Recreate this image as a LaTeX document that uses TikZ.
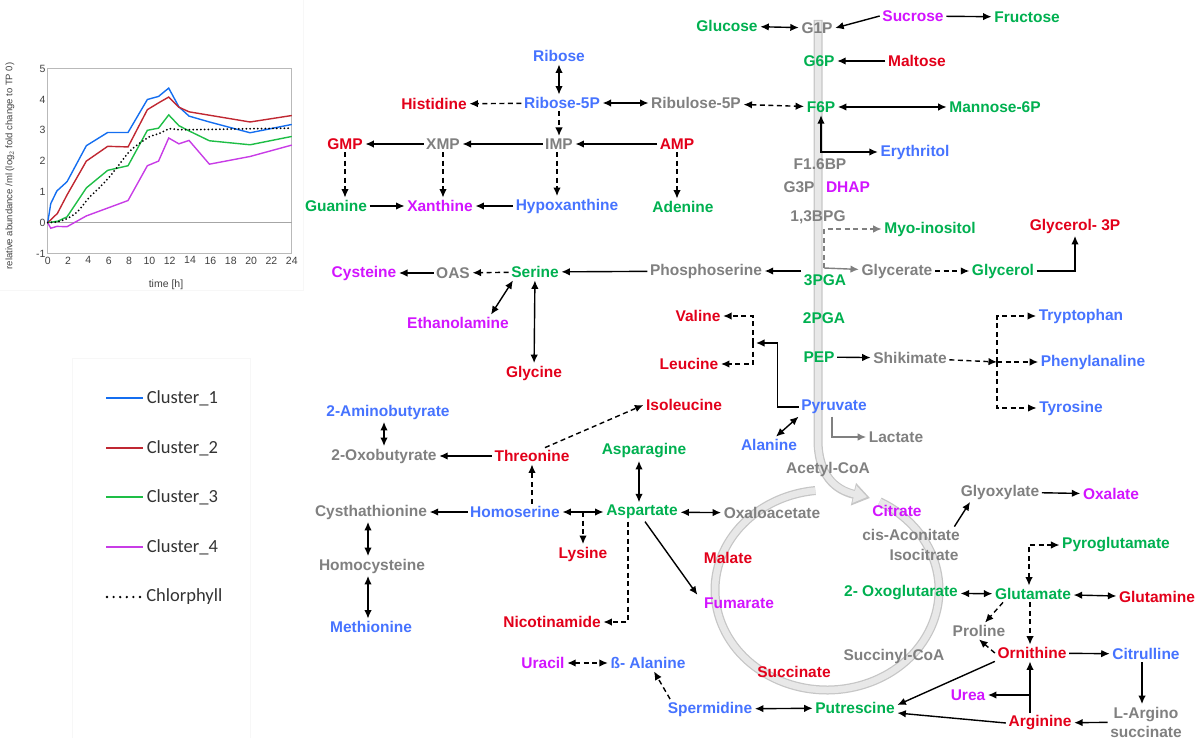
\documentclass[tikz,border=0pt]{standalone}
\usepackage{fontspec}
\setmainfont{Liberation Sans}
\newfontfamily\legfont{Carlito}
\usetikzlibrary{arrows.meta}

\definecolor{cgreen}{RGB}{0,176,80}
\definecolor{cred}{RGB}{226,0,26}
\definecolor{cblue}{RGB}{70,115,255}
\definecolor{cmag}{RGB}{210,20,255}
\definecolor{cgray}{RGB}{128,128,128}
\definecolor{cl1}{RGB}{20,110,240}
\definecolor{cl2}{RGB}{192,40,50}
\definecolor{cl3}{RGB}{30,190,70}
\definecolor{cl4}{RGB}{200,60,230}

\tikzset{
  met/.style={font=\bfseries\fontsize{15.5}{17}\selectfont, inner sep=2.5pt},
  grn/.style={met, text=cgreen},
  rd/.style={met, text=cred},
  blu/.style={met, text=cblue},
  mag/.style={met, text=cmag},
  gry/.style={met, text=cgray},
  arr/.style={line width=1.4pt},
  dsh/.style={arr, dash pattern=on 5pt off 3.5pt},
  garr/.style={arr, draw=cgray},
  gdsh/.style={dsh, draw=cgray},
  band/.style={line width=9pt, draw=gray!45},
  bandin/.style={line width=6.5pt, draw=gray!18},
  tick/.style={font=\fontsize{10.5}{12}\selectfont, text=black!75, inner sep=2pt},
  faint/.style={draw=gray!6, line width=0.6pt},
}

\begin{document}
\begin{tikzpicture}[x=1pt, y=-1pt, >={Latex[length=8.5pt,width=7.5pt]}]
  \useasboundingbox (0,0) rectangle (1201,738);
  \draw[faint] (-5,-5) rectangle (303,290);
  \draw[faint] (72,358) rectangle (250,760);

  % time course chart
  \node[rotate=90, font=\fontsize{9.5}{10}\selectfont, text=black!75] (ylab) at (10,166)
    {relative abundance /ml (log$_2$ fold change to TP 0)};
  \node[tick] (xlab) at (166,285) {time [h]};
  \begin{scope}[shift={(47.7,222.7)}, x=10.17pt, y=30.8pt]
    \draw[gray!55, line width=0.8pt] (0,-1) rectangle (24,5);
    \draw[gray!70, line width=1.3pt] (0,0) -- (24,0);
    \foreach \v in {-1,...,5} \node[tick, left] (yt\v) at (0,\v) {\v};
    \foreach \t in {0,2,...,24} \node[tick, below=1pt] (xt\t) at (\t,-1) {\t};
    \draw[cl1, line width=1.4pt] plot coordinates {(0,0) (0.3,0.62) (0.9,1.03) (1.9,1.33) (3.8,2.5)
      (5.9,2.93) (7.9,2.93) (9.8,4.0) (10.9,4.1) (11.9,4.37) (12.9,3.76) (13.9,3.46) (15.9,3.27)
      (19.9,2.92) (24,3.19)};
    \draw[cl2, line width=1.4pt] plot coordinates {(0,0) (0.95,0.3) (1.9,0.9) (3.8,2.0) (5.9,2.48)
      (7.9,2.46) (9.8,3.67) (10.9,3.89) (11.9,4.08) (12.9,3.75) (13.9,3.6) (19.9,3.27) (24,3.48)};
    \draw[cl3, line width=1.4pt] plot coordinates {(0,0) (1,0.05) (1.9,0.19) (3.8,1.13) (5.9,1.7)
      (7.9,1.85) (9.8,3.0) (10.9,3.07) (11.9,3.5) (12.9,3.15) (13.9,2.98) (15.9,2.66) (19.9,2.53)
      (24,2.8)};
    \draw[cl4, line width=1.4pt] plot coordinates {(0,0) (0.3,-0.18) (0.9,-0.12) (1.9,-0.13)
      (3.8,0.22) (7.9,0.72) (9.8,1.85) (10.9,2.0) (11.9,2.75) (12.9,2.56) (13.9,2.67) (15.9,1.9)
      (19.9,2.15) (24,2.52)};
    \draw[black, line width=2pt, dash pattern=on 0pt off 3.8pt, line cap=round] plot[smooth]
      coordinates {(0,0) (1,0.03) (2,0.15) (3,0.38) (4,0.79) (5,1.11) (6,1.46) (7,1.87) (8,2.3)
      (9,2.57) (10,2.79) (11,2.9) (12,3.05) (13,3.02) (16,3.03) (20,3.05) (24,3.07)};
  \end{scope}

  % legend
  \foreach \c/\n/\y in {cl1/Cluster\_1/398, cl2/Cluster\_2/448, cl3/Cluster\_3/497, cl4/Cluster\_4/547}
    \draw[\c, line width=1.6pt] (106,\y) -- (143,\y)
      node[right, font=\legfont\fontsize{18.5}{20}\selectfont, text=black!80, inner sep=3pt] (leg\y) {\n};
  \draw[black, line width=2.6pt, dash pattern=on 0pt off 6.6pt, line cap=round] (107,597) -- (142,597)
    node[right, font=\legfont\fontsize{18.5}{20}\selectfont, text=black!80, inner sep=3pt] (leg597) {Chlorphyll};

  % glycolysis band and TCA cycle
  \draw[band, -{Triangle[width=22pt,length=17pt]}] (818,20) -- (818,440)
    .. controls (818,475) and (835,490) .. (870,498);
  \draw[bandin, -{Triangle[width=17pt,length=13pt]}] (818,21) -- (818,440)
    .. controls (818,475) and (835,490) .. (867,497);
  \draw[band] (879.6,501.7) arc[start angle=-62, end angle=264, x radius=112, y radius=100];
  \draw[bandin] (879.6,501.7) arc[start angle=-62, end angle=264, x radius=112, y radius=100];

  % metabolites
  \node[grn] (glucose) at (727,26) {Glucose};
  \node[gry] (g1p) at (817,28) {G1P};
  \node[mag] (sucrose) at (913,16) {Sucrose};
  \node[grn] (fructose) at (1027,17) {Fructose};
  \node[grn] (g6p) at (819,61) {G6P};
  \node[rd] (maltose) at (917,61) {Maltose};
  \node[grn] (f6p) at (821,107) {F6P};
  \node[grn] (mannose) at (995,107) {Mannose-6P};
  \node[blu] (erythritol) at (915,152) {Erythritol};
  \node[gry] (f16bp) at (820,164) {F1.6BP};
  \node[gry] (g3p) at (799,187) {G3P};
  \node[mag] (dhap) at (848,187) {DHAP};
  \node[gry] (bpg) at (818,217) {1,3BPG};
  \node[grn] (myo) at (930,229) {Myo-inositol};
  \node[rd] (gl3p) at (1075,226) {Glycerol- 3P};
  \node[gry] (glycerate) at (897,271) {Glycerate};
  \node[grn] (glycerol) at (1003,271) {Glycerol};
  \node[grn] (pga3) at (825,280) {3PGA};
  \node[grn] (pga2) at (824,318) {2PGA};
  \node[grn] (pep) at (819,357) {PEP};
  \node[gry] (shikimate) at (910,358) {Shikimate};
  \node[blu] (trp) at (1081,316) {Tryptophan};
  \node[blu] (phe) at (1093,362) {Phenylanaline};
  \node[blu] (tyr) at (1071,408) {Tyrosine};
  \node[rd] (valine) at (698,316) {Valine};
  \node[rd] (leucine) at (689,364) {Leucine};
  \node[rd] (isoleucine) at (684,405) {Isoleucine};
  \node[blu] (pyruvate) at (834,407) {Pyruvate};
  \node[gry] (lactate) at (896,437) {Lactate};
  \node[blu] (alanine) at (769,445) {Alanine};
  \node[gry] (acetyl) at (828,469) {Acetyl-CoA};
  \node[mag] (citrate) at (897,511) {Citrate};
  \node[gry] (cisacon) at (911,535) {cis-Aconitate};
  \node[gry] (isocit) at (924,555) {Isocitrate};
  \node[gry] (glyox) at (1000,492) {Glyoxylate};
  \node[mag] (oxalate) at (1111,494) {Oxalate};
  \node[grn] (pyroglu) at (1116,545) {Pyroglutamate};
  \node[grn] (oxoglu) at (901,593) {2- Oxoglutarate};
  \node[grn] (glutamate) at (1033,594) {Glutamate};
  \node[rd] (glutamine) at (1157,597) {Glutamine};
  \node[gry] (proline) at (979,631) {Proline};
  \node[rd] (ornithine) at (1032,653) {Ornithine};
  \node[blu] (citrulline) at (1146,654) {Citrulline};
  \node[gry] (succoa) at (894,656) {Succinyl-CoA};
  \node[rd] (succinate) at (794,672) {Succinate};
  \node[mag] (urea) at (968,695) {Urea};
  \node[grn] (putrescine) at (855,708) {Putrescine};
  \node[rd] (arginine) at (1040,723) {Arginine};
  \node[gry, align=center, font=\bfseries\fontsize{15.5}{19}\selectfont] (largino) at (1146,722) {L-Argino\\succinate};
  \node[blu] (spermidine) at (710,709) {Spermidine};
  \node[rd] (malate) at (728,558) {Malate};
  \node[mag] (fumarate) at (739,603) {Fumarate};
  \node[gry] (oxaloac) at (772,513) {Oxaloacetate};
  \node[grn] (aspartate) at (642,512) {Aspartate};
  \node[grn] (asparagine) at (644,451) {Asparagine};
  \node[blu] (homoser) at (515,512) {Homoserine};
  \node[rd] (lysine) at (583,554) {Lysine};
  \node[rd] (nicotin) at (552,622) {Nicotinamide};
  \node[mag] (uracil) at (543,663) {Uracil};
  \node[blu] (balanine) at (648,663) {ß- Alanine};
  \node[rd] (threonine) at (532,456) {Threonine};
  \node[gry] (oxobut) at (384,456) {2-Oxobutyrate};
  \node[blu] (aminobut) at (388,412) {2-Aminobutyrate};
  \node[gry] (cysta) at (371,512) {Cysthathionine};
  \node[gry] (homocys) at (372,566) {Homocysteine};
  \node[blu] (methionine) at (371,627) {Methionine};
  \node[gry] (phosser) at (706,271) {Phosphoserine};
  \node[grn] (serine) at (535,272) {Serine};
  \node[gry] (oas) at (453,273) {OAS};
  \node[mag] (cysteine) at (364,273) {Cysteine};
  \node[mag] (ethanol) at (458,323) {Ethanolamine};
  \node[rd] (glycine) at (534,373) {Glycine};
  \node[blu] (ribose) at (559,56) {Ribose};
  \node[blu] (ribose5p) at (562,103) {Ribose-5P};
  \node[rd] (histidine) at (434,104) {Histidine};
  \node[gry] (ribulose) at (696,103) {Ribulose-5P};
  \node[rd] (gmp) at (345,144) {GMP};
  \node[gry] (xmp) at (443,144) {XMP};
  \node[gry] (imp) at (559,144) {IMP};
  \node[rd] (amp) at (677,144) {AMP};
  \node[grn] (guanine) at (336,206) {Guanine};
  \node[mag] (xanthine) at (440,206) {Xanthine};
  \node[blu] (hypox) at (567,206) {Hypoxanthine};
  \node[grn] (adenine) at (683,207) {Adenine};

  % glycolysis side branches
  \draw[arr,<->] (glucose) -- (g1p);
  \draw[arr,->] (sucrose.west) -- (g1p.east);
  \draw[arr,->] (sucrose) -- (fructose);
  \draw[arr,->] (maltose) -- (g6p);
  \draw[dsh,<->] (ribulose) -- (f6p);
  \draw[arr,<->] (f6p) -- (mannose);
  \draw[arr,<->] (f6p.south) |- (erythritol.west);
  \coordinate (pgab) at (824,268);
  \draw[garr,->] (pgab) -- (glycerate);
  \draw[gdsh,->] (pgab) |- (myo.west);
  \draw[dsh,->] (glycerate) -- (glycerol);
  \draw[arr,->] (glycerol.east) -| (gl3p.south);
  \draw[arr,->] (pga3.west |- phosser.east) -- (phosser.east);
  \draw[arr,->] (phosser) -- (serine);
  \draw[dsh,->] (serine) -- (oas);
  \draw[arr,->] (oas) -- (cysteine);
  \draw[arr,<->] ([xshift=-22pt]serine.south) -- ([xshift=33pt]ethanol.north);
  \draw[arr,<->] (serine) -- (glycine);
  \draw[arr,->] (pep) -- (shikimate);
  \coordinate (aro) at (997,362);
  \draw[dsh,->] (shikimate) -- (aro);
  \draw[dsh,->] (aro) |- (trp.west);
  \draw[dsh,->] (aro) -- (phe.west);
  \draw[dsh,->] (aro) |- (tyr.west);
  \coordinate (bc) at (753,343);
  \draw[arr,->] (pyruvate.west) -| ++(-21,-64) -- ([xshift=3pt]bc);
  \draw[dsh,->] (bc) |- (valine.east);
  \draw[dsh,->] (bc) |- (leucine.east);
  \draw[arr,<->] (pyruvate.south west) -- ([xshift=7pt]alanine.north);
  \draw[garr,->] ([xshift=-2pt]pyruvate.south) |- (lactate.west);

  % amino acids of the aspartate family
  \draw[dsh,->] ([xshift=13pt]threonine.north) -- (isoleucine.west);
  \draw[arr,->] (threonine) -- (oxobut);
  \draw[arr,<->] (aminobut.south -| oxobut.north) -- (oxobut.north);
  \draw[dsh,->] (homoser.north -| threonine.south) -- (threonine.south);
  \draw[arr,->] (homoser) -- (cysta);
  \draw[arr,<->] ([xshift=-3pt]cysta.south) -- ([xshift=-3pt]cysta.south |- homocys.north);
  \draw[arr,<->] ([xshift=-4pt]homocys.south) -- ([xshift=-4pt]homocys.south |- methionine.north);
  \draw[arr,<->] (homoser) -- (aspartate);
  \draw[dsh,->] (lysine.north |- homoser.east) -- (lysine.north);
  \draw[arr,<->] ([xshift=-3pt]aspartate.north) -- ([xshift=-3pt]aspartate.north |- asparagine.south);
  \draw[arr,<->] (aspartate) -- (oxaloac);
  \draw[arr,->] ([xshift=3pt]aspartate.south) -- ([xshift=-4pt]fumarate.north west);
  \draw[dsh,->] ([xshift=-14pt]aspartate.south) |- (nicotin.east);
  \draw[dsh,<->] (uracil) -- (balanine);
  \draw[dsh,->] ([xshift=5pt]spermidine.north west) -- ([xshift=6pt]balanine.south);
  \draw[arr,<->] (spermidine) -- (putrescine);

  % urea cycle and glutamate
  \draw[arr,->] (ornithine.south west) -- ([yshift=3pt]putrescine.east);
  \draw[arr,->] (arginine.west) -- ([yshift=-5pt]putrescine.east);
  \draw[arr,->] ([xshift=-2pt]ornithine.south |- arginine.north) -- ([xshift=-2pt]ornithine.south);
  \draw[arr,->] ([xshift=-2pt]ornithine.south |- urea.east) -- (urea.east);
  \draw[arr,->] (ornithine) -- (citrulline);
  \draw[arr,->] ([xshift=-4pt]citrulline.south) -- ([xshift=-4pt]largino.north);
  \draw[arr,->] (largino) -- (arginine);
  \draw[dsh,->] (ornithine.west) -- (proline.south);
  \draw[dsh,->] ([xshift=-30pt]glutamate.south) -- ([xshift=6pt]proline.north);
  \draw[dsh,->] ([xshift=-3pt]glutamate.south) -- ([xshift=-3pt]glutamate.south |- ornithine.north);
  \draw[dsh,<->] ([xshift=-4pt]glutamate.north) |- (pyroglu.west);
  \draw[arr,<->] (oxoglu) -- (glutamate);
  \draw[arr,<->] (glutamate) -- (glutamine);
  \draw[arr,->] ([xshift=-8pt]cisacon.north east) -- ([xshift=12pt]glyox.south west);
  \draw[arr,->] (glyox) -- (oxalate);

  % nucleotides
  \draw[arr,<->] (ribose.south) -- (ribose.south |- ribose5p.north);
  \draw[dsh,->] (ribose5p) -- (histidine);
  \draw[arr,<->] (ribose5p) -- (ribulose);
  \draw[dsh,->] (ribose5p.south -| imp.north) -- (imp.north);
  \draw[arr,->] (amp) -- (imp);
  \draw[arr,->] (imp) -- (xmp);
  \draw[arr,->] (xmp) -- (gmp);
  \draw[dsh,->] (gmp.south) -- (gmp.south |- guanine.north);
  \draw[dsh,->] (xmp.south) -- (xmp.south |- xanthine.north);
  \draw[dsh,->] ([xshift=-2pt]imp.south) -- ([xshift=-2pt]imp.south |- hypox.north);
  \draw[dsh,->] (amp.south) -- (amp.south |- adenine.north);
  \draw[arr,->] (guanine) -- (xanthine);
  \draw[arr,->] (hypox) -- (xanthine);
\end{tikzpicture}
\end{document}
